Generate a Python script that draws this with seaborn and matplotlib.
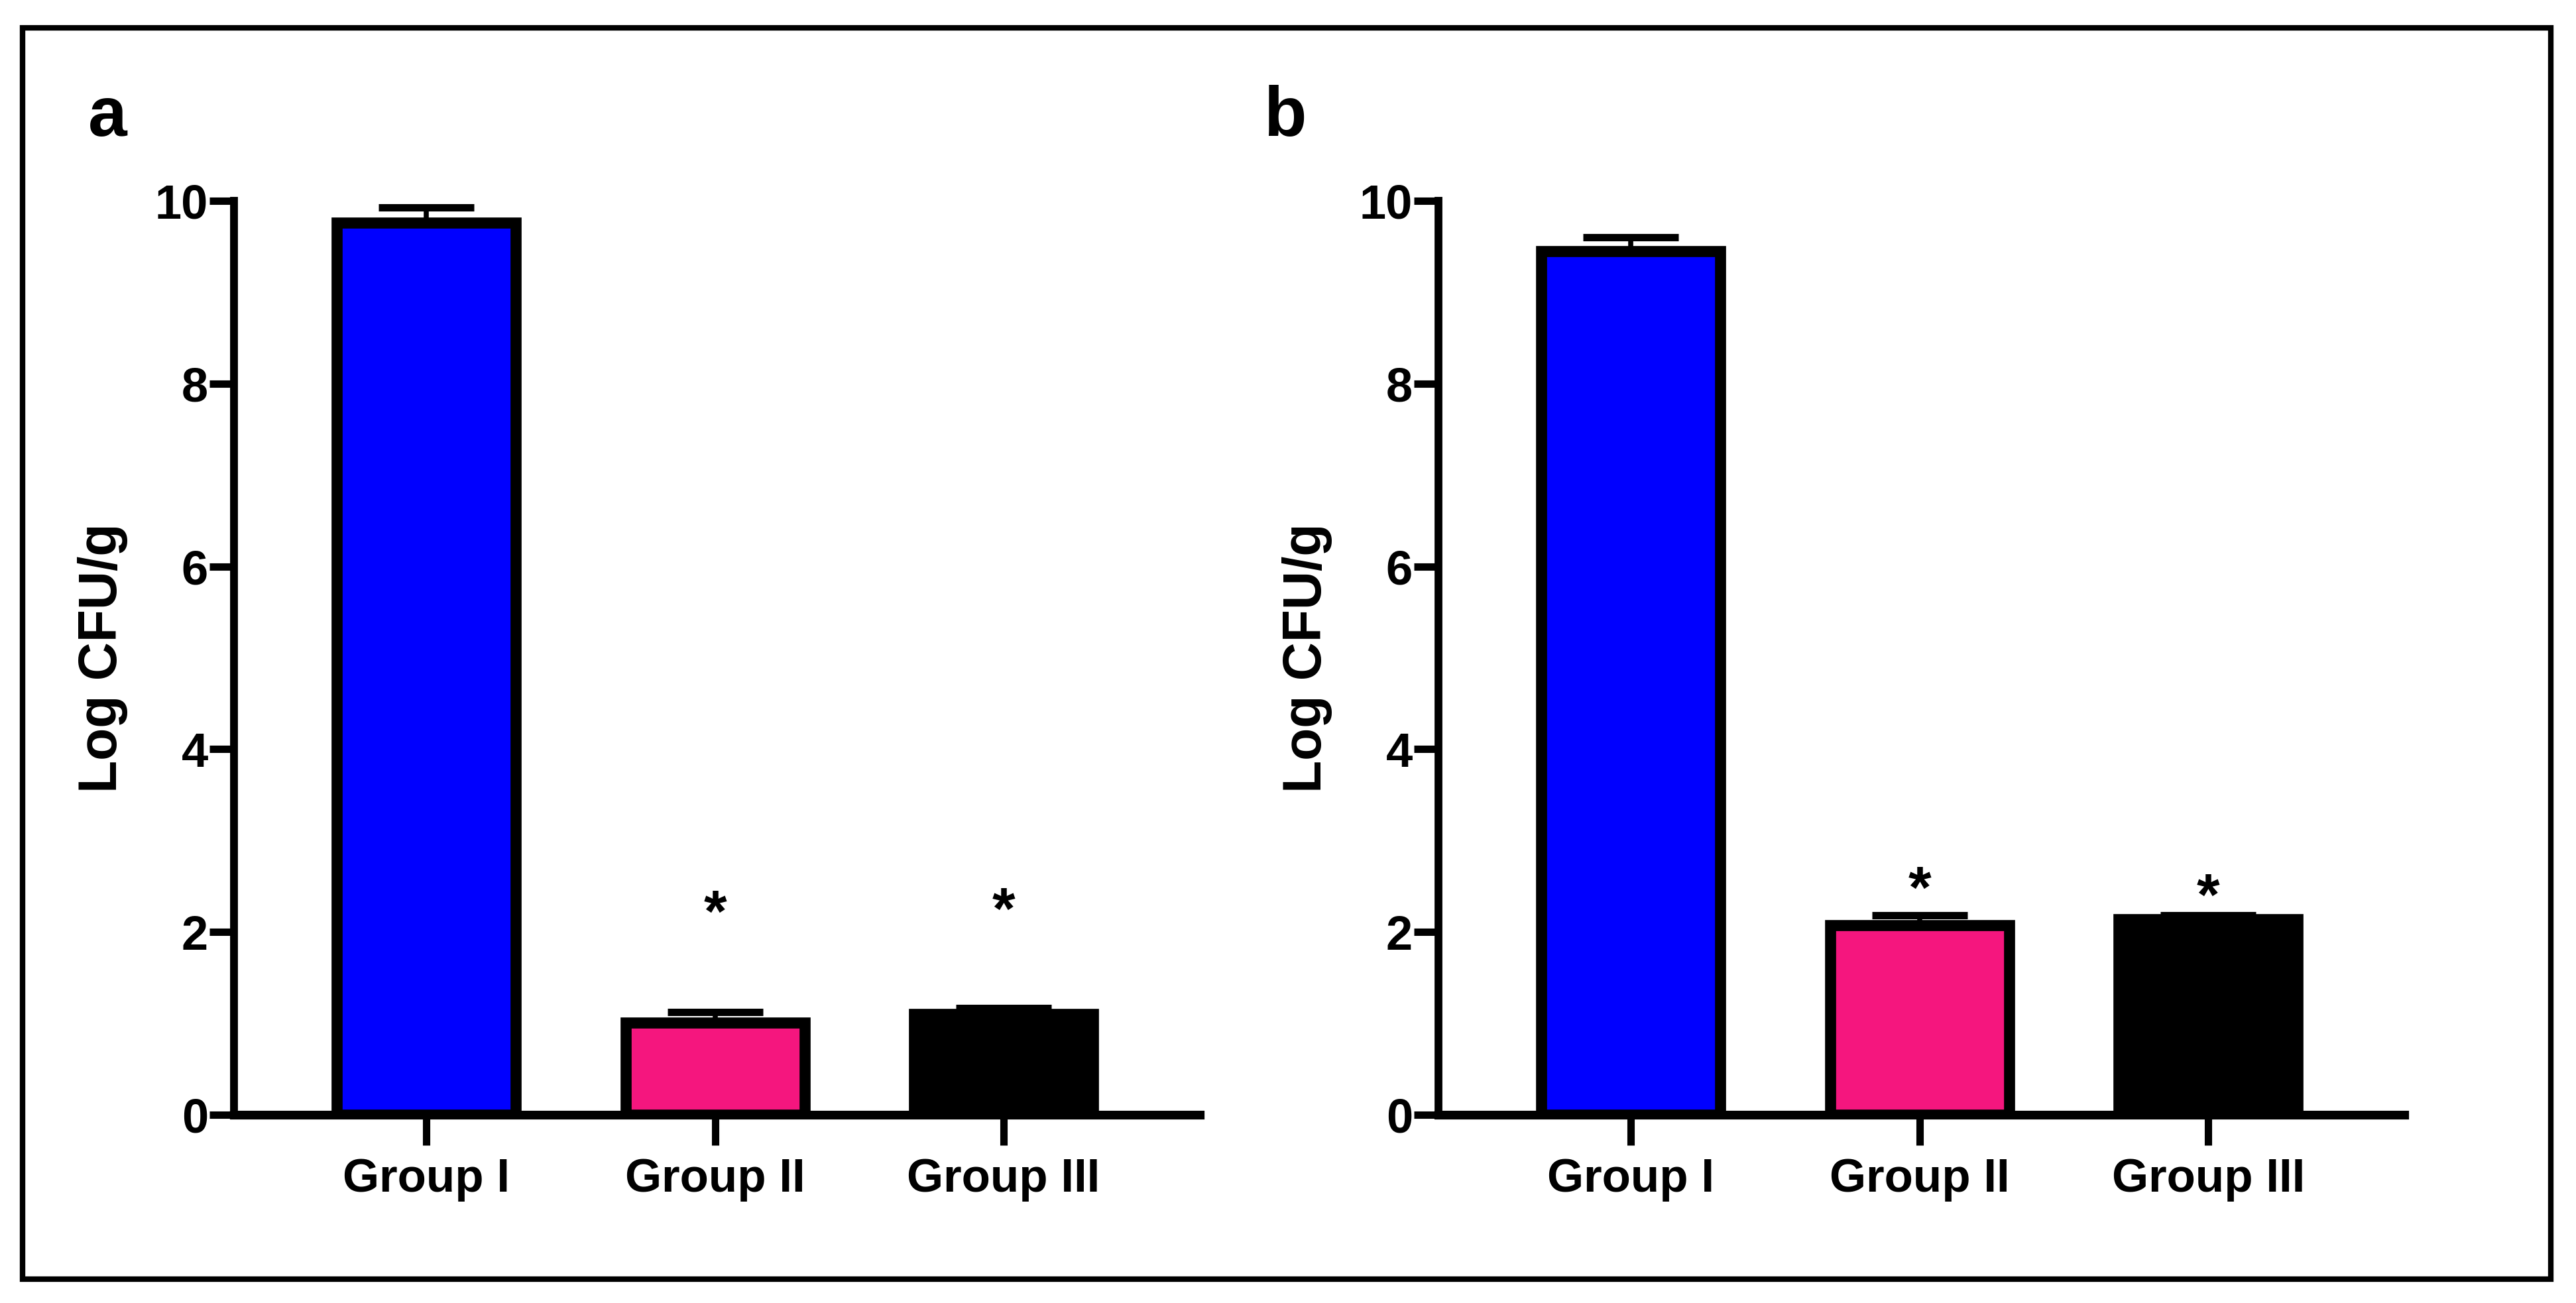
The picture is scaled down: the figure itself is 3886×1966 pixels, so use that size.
import pandas as pd
import numpy as np
import matplotlib
matplotlib.use('Agg')
import matplotlib.pyplot as plt
import matplotlib.transforms as mtransforms
from matplotlib.patches import Rectangle
import seaborn as sns

# Data
groups = ['Group I', 'Group II', 'Group III']
colors = ['#0000FF', '#F5167E', '#000000']

mean_a = [9.76, 1.01, 1.10]
sem_a = [0.17, 0.11, 0.07]
star_a = [None, 2.37, 2.40]   # asterisk centre heights

mean_b = [9.45, 2.07, 2.14]
sem_b = [0.15, 0.11, 0.04]
star_b = [None, 2.63, 2.55]

panel_labels = ['a', 'b']
y_label = 'Log CFU/g'
y_ticks = [0, 2, 4, 6, 8, 10]

sns.set_style('ticks')
plt.rcParams['font.family'] = ['Liberation Sans', 'DejaVu Sans']
plt.rcParams['font.weight'] = 'bold'
plt.rcParams.update({'axes.edgecolor': 'black', 'xtick.color': 'black', 'ytick.color': 'black',
                     'text.color': 'black', 'axes.labelcolor': 'black'})

fig = plt.figure(figsize=(38.86, 19.66), dpi=100)
fig.patch.set_facecolor('white')

# outer frame
fig.patches.append(Rectangle((0.00875, 0.0183), 0.98145, 0.9603, transform=fig.transFigure,
                             fill=False, edgecolor='black', linewidth=6))

ax_a = fig.add_axes([0.0908, 0.1445, 0.375, 0.7014])
ax_b = fig.add_axes([0.5584, 0.1445, 0.375, 0.7014])

star_fs = 64
for ax, means, sems, stars, lab, lx in [(ax_a, mean_a, sem_a, star_a, panel_labels[0], 133),
                                         (ax_b, mean_b, sem_b, star_b, panel_labels[1], 1906)]:
    df = pd.DataFrame({'group': groups, 'value': means})
    sns.barplot(data=df, x='group', y='value', hue='group', order=groups, hue_order=groups,
                palette=colors, saturation=1, width=0.62, edgecolor='black', linewidth=12,
                errorbar=None, legend=False, ax=ax)
    # upper-only SEM bars
    ax.errorbar(x=np.arange(len(groups)), y=means, yerr=[np.zeros(len(groups)), sems],
                fmt='none', ecolor='black', elinewidth=5.5, capsize=52, capthick=8, zorder=5,
                clip_on=False)
    # significance asterisks
    off = mtransforms.ScaledTranslation(0, -0.56 * star_fs / 72, fig.dpi_scale_trans)
    for i, s in enumerate(stars):
        if s is not None:
            ax.text(i, s, '*', ha='center', va='baseline', fontsize=star_fs, fontweight='bold',
                    transform=ax.transData + off)

    ax.set_xlim(-0.667, 2.68)
    ax.set_ylim(0, 10)
    ax.set_yticks(y_ticks)
    ax.set_xlabel('')
    ax.set_ylabel(y_label, fontsize=58, fontweight='bold')
    ax.yaxis.set_label_coords(-0.110, 0.5)
    sns.despine(ax=ax)
    ax.spines['left'].set_linewidth(8.5)
    ax.spines['bottom'].set_linewidth(9.5)
    ax.spines['left'].set_capstyle('projecting')
    ax.tick_params(axis='y', direction='out', length=27, width=8, labelsize=52, pad=1)
    ax.tick_params(axis='x', direction='out', length=33, width=8, labelsize=51, pad=14)
    for t in ax.get_xticklabels() + ax.get_yticklabels():
        t.set_fontweight('bold')

    fig.text(lx / 3886, 1 - 205 / 1966, lab, ha='left', va='baseline', fontsize=76,
             fontweight='bold')

fig.savefig('out.png', dpi=100, facecolor='white')
